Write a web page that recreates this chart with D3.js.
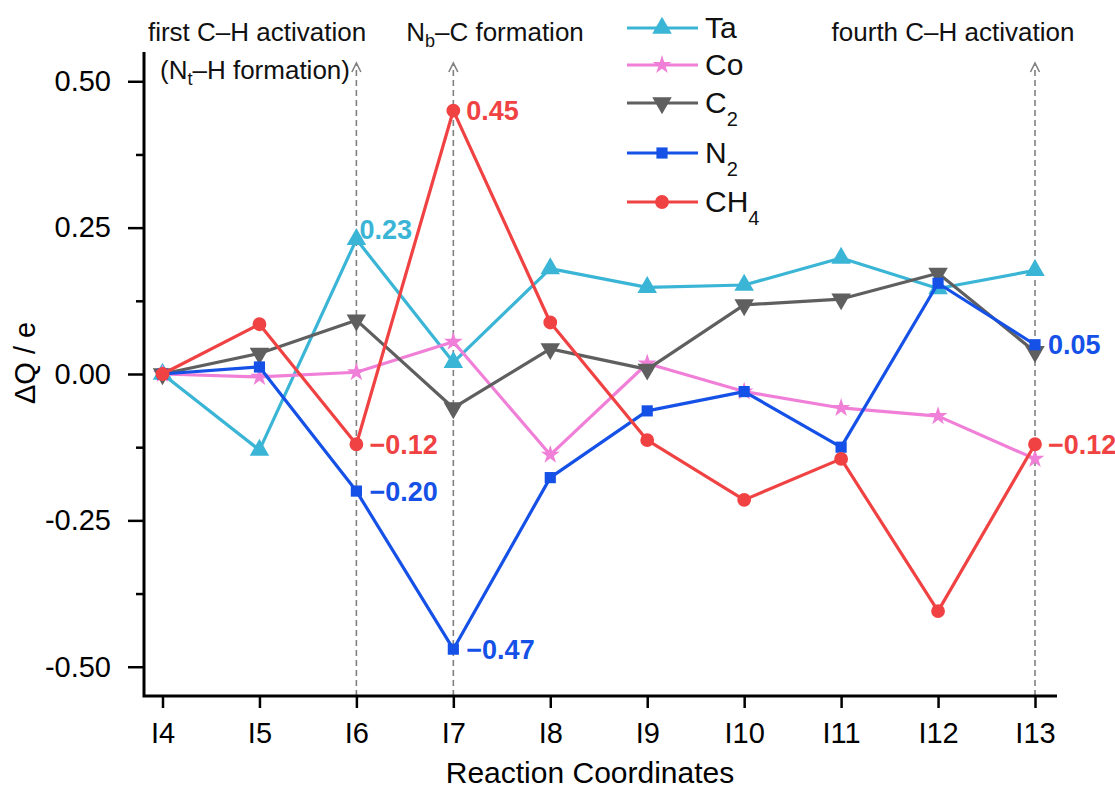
<!DOCTYPE html>
<html>
<head>
<meta charset="UTF-8">
<script src="https://d3js.org/d3.v7.min.js"></script>
<style>
  body { margin: 0; background: #fff; }
  svg { font-family: "Liberation Sans", Arial, sans-serif; }
</style>
</head>
<body>
<svg id="chart" width="1115" height="789"></svg>
<script>
// data
const categories = ["I4", "I5", "I6", "I7", "I8", "I9", "I10", "I11", "I12", "I13"];
const ta  = [0, -0.13, 0.23, 0.02, 0.18, 0.148, 0.152, 0.198, 0.146, 0.177];
const co  = [0, -0.005, 0.003, 0.055, -0.138, 0.018, -0.03, -0.058, -0.072, -0.145];
const c2  = [0, 0.035, 0.092, -0.058, 0.043, 0.008, 0.118, 0.128, 0.172, 0.038];
const n2  = [0, 0.012, -0.20, -0.47, -0.177, -0.063, -0.03, -0.125, 0.155, 0.05];
const ch4 = [0, 0.085, -0.12, 0.45, 0.088, -0.113, -0.215, -0.145, -0.405, -0.12];
const yTicks = [-0.5, -0.25, 0, 0.25, 0.5];
const yTickLabels = ["-0.50", "-0.25", "0.00", "0.25", "0.50"];
const yMinor = [-0.375, -0.125, 0.125, 0.375];
const markedSteps = ["I6", "I7", "I13"];

const series = [
  { name: "Ta",  sub: "",  values: ta,  color: "#3bb5d6", symbol: "up" },
  { name: "Co",  sub: "",  values: co,  color: "#f07fd8", symbol: "star" },
  { name: "C",   sub: "2", values: c2,  color: "#5f5f5f", symbol: "down" },
  { name: "N",   sub: "2", values: n2,  color: "#1551e6", symbol: "square" },
  { name: "CH",  sub: "4", values: ch4, color: "#f04242", symbol: "circle" }
];

// value callouts: [series index, step, text]
const callouts = [
  [0, "I6", "0.23"],
  [4, "I7", "0.45"],
  [4, "I6", "\u22120.12"],
  [3, "I6", "\u22120.20"],
  [3, "I7", "\u22120.47"],
  [3, "I13", "0.05"],
  [4, "I13", "\u22120.12"]
];

const svg = d3.select("#chart");
const plotLeft = 144, plotRight = 1057, plotTop = 52, plotBottom = 696;

const x = d3.scalePoint().domain(categories).range([162.5, 1035]);
const y = d3.scaleLinear().domain([-0.55, 0.55]).range([plotBottom, plotTop]);

// dashed guide lines with arrows
markedSteps.forEach(s => {
  const gx = x(s);
  svg.append("line")
    .attr("x1", gx).attr("x2", gx)
    .attr("y1", plotBottom).attr("y2", 65)
    .attr("stroke", "#808080").attr("stroke-width", 1.6)
    .attr("stroke-dasharray", "6,4");
  svg.append("path")
    .attr("d", `M${gx - 4.5},${72} L${gx},${63} L${gx + 4.5},${72}`)
    .attr("fill", "none").attr("stroke", "#808080").attr("stroke-width", 1.6);
});

// axes
const yAxis = d3.axisLeft(y).tickValues(yTicks).tickSize(16).tickPadding(17)
  .tickFormat((d, i) => yTickLabels[i]);
const gy = svg.append("g").attr("transform", `translate(${plotLeft},0)`).call(yAxis);
gy.select(".domain").remove();
svg.append("g").attr("transform", `translate(${plotLeft},0)`)
  .call(d3.axisLeft(y).tickValues(yMinor).tickSize(8).tickFormat(""))
  .select(".domain").remove();

const xAxis = d3.axisBottom(x).tickSize(12).tickPadding(14);
const gxAxis = svg.append("g").attr("transform", `translate(0,${plotBottom})`).call(xAxis);
gxAxis.select(".domain").remove();

svg.selectAll(".tick line").attr("stroke", "#000").attr("stroke-width", 2.5);
svg.selectAll(".tick text").attr("font-size", 29).attr("fill", "#000")
  .attr("font-family", "Liberation Sans, Arial, sans-serif");

svg.append("path")
  .attr("d", `M${plotLeft},${plotTop} V${plotBottom} H${plotRight}`)
  .attr("fill", "none").attr("stroke", "#000").attr("stroke-width", 3);

// axis titles
svg.append("text").attr("x", 590).attr("y", 783).attr("text-anchor", "middle")
  .attr("font-size", 30).text("Reaction Coordinates");
svg.append("text").attr("transform", "translate(35,363) rotate(-90)")
  .attr("text-anchor", "middle").attr("font-size", 29).text("\u0394Q / e");

// symbols
function symbolPath(kind) {
  if (kind === "up" || kind === "down") return d3.symbol(d3.symbolTriangle, 165)();
  if (kind === "star") return d3.symbol(d3.symbolStar, 110)();
  if (kind === "square") return d3.symbol(d3.symbolSquare, 125)();
  return d3.symbol(d3.symbolCircle, 150)();
}

const line = d3.line().x((d, i) => x(categories[i])).y(d => y(d));

series.forEach(s => {
  const g = svg.append("g");
  g.append("path").attr("d", line(s.values))
    .attr("fill", "none").attr("stroke", s.color).attr("stroke-width", 3.2)
    .attr("stroke-linejoin", "round");
  g.selectAll("path.m").data(s.values).join("path")
    .attr("class", "m")
    .attr("d", symbolPath(s.symbol))
    .attr("transform", (d, i) => `translate(${x(categories[i])},${y(d)})` + (s.symbol === "down" ? " rotate(180)" : ""))
    .attr("fill", s.color);
});

// callouts
callouts.forEach(([si, step, txt]) => {
  const s = series[si];
  const v = s.values[categories.indexOf(step)];
  const up = txt === "0.23";
  svg.append("text")
    .attr("x", x(step) + (up ? 3 : 13))
    .attr("y", y(v) + (up ? -10 : 0))
    .attr("dy", "0.36em")
    .attr("font-size", 27).attr("font-weight", "bold")
    .attr("fill", s.color).text(txt);
});

// annotations above guides
const notes = [
  { x: 257, y: 41, parts: [["first C\u2013H activation"]] },
  { x: 255, y: 79, parts: [["(N"], ["t", "sub"], ["\u2013H formation)"]] },
  { x: 495, y: 41, parts: [["N"], ["b", "sub"], ["\u2013C formation"]] },
  { x: 953, y: 41, parts: [["fourth C\u2013H activation"]] }
];
notes.forEach(n => {
  const t = svg.append("text").attr("x", n.x).attr("y", n.y)
    .attr("text-anchor", "middle").attr("font-size", 26).attr("fill", "#111");
  n.parts.forEach(p => {
    const ts = t.append("tspan").text(p[0]);
    if (p[1] === "sub") ts.attr("font-size", 18).attr("dy", 6);
    else if (t.selectAll("tspan").size() > 1) ts.attr("dy", -6);
  });
});

// legend
const legendRows = [28, 65, 103, 153, 202];
series.forEach((s, i) => {
  const ly = legendRows[i];
  const g = svg.append("g");
  g.append("line").attr("x1", 627).attr("x2", 698).attr("y1", ly).attr("y2", ly)
    .attr("stroke", s.color).attr("stroke-width", 3.2);
  g.append("path").attr("d", symbolPath(s.symbol))
    .attr("transform", `translate(662,${ly})` + (s.symbol === "down" ? " rotate(180)" : ""))
    .attr("fill", s.color);
  const t = g.append("text").attr("x", 705).attr("y", ly + 9.5)
    .attr("font-size", 30).attr("fill", "#111");
  t.append("tspan").text(s.name);
  if (s.sub) t.append("tspan").attr("font-size", 20).attr("dy", 13).text(s.sub);
});
</script>
</body>
</html>
